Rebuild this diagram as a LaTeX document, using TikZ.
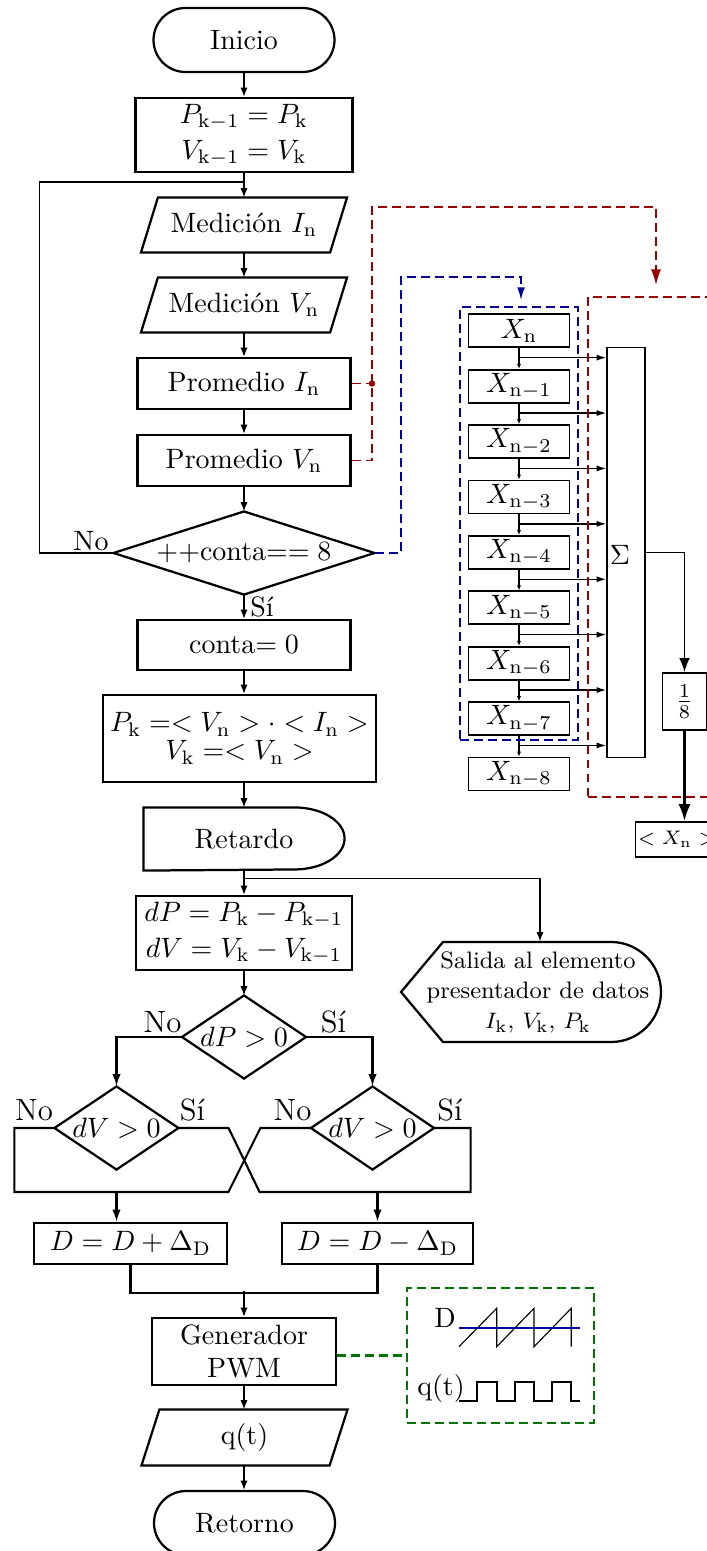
\documentclass[tikz,border=0pt]{standalone}
\usetikzlibrary{arrows.meta,calc}
\newcommand\pxu{0.357pt}
\definecolor{dred}{RGB}{153,0,0}
\definecolor{dblue}{RGB}{0,0,150}
\definecolor{dgreen}{RGB}{0,115,0}
% outline of an input/output block around a ghost node
\newcommand\ioshape[2]{\draw[shp] ([xshift=-#2]#1.south west) -- ([xshift=#2]#1.north west) -- ([xshift=#2]#1.north east) -- ([xshift=-#2]#1.south east) -- cycle;}
% outline of a decision block around a ghost node
\newcommand\decshape[1]{\draw[shp] (#1.west) -- (#1.north) -- (#1.east) -- (#1.south) -- cycle;}
\begin{document}
\begin{tikzpicture}[x=\pxu, y=-\pxu,
  shp/.style={line width=0.8pt, line join=miter},
  box/.style={draw, line width=0.8pt, inner sep=0pt, align=center},
  ghost/.style={inner sep=0pt, align=center},
  term/.style={box, minimum width=181*\pxu, minimum height=64*\pxu, rounded corners=11.42pt},
  conn/.style={line width=0.55pt},
  arr/.style={conn, -{Latex[length=3.3pt,width=2.6pt]}},
  arrB/.style={line width=0.75pt, -{Latex[length=4.4pt,width=3pt]}},
  thk/.style={line width=0.75pt},
  sarr/.style={line width=0.5pt, -{Latex[length=1.8pt,width=1.5pt]}},
  barr/.style={line width=0.5pt, -{Latex[length=3.5pt,width=2.2pt]}},
  xbox/.style={draw, line width=0.6pt, minimum width=101*\pxu, minimum height=33*\pxu, inner sep=0pt},
  dsh/.style={line width=0.55pt, dash pattern=on 3.2pt off 1.8pt},
  lbl/.style={inner sep=0pt},
  blbl/.style={inner sep=0pt, font=\fontsize{11}{13}\selectfont}]
\useasboundingbox (0,0) rectangle (707,1551);

% ---- main flow
\node[term] (ini) at (244,40) {Inicio};
\node[box, minimum width=217*\pxu, minimum height=74*\pxu] (p1) at (244,135)
  {$P_{\mathrm{k-1}} = P_{\mathrm{k}}$\\[1pt] $V_{\mathrm{k-1}} = V_{\mathrm{k}}$};
\node[ghost, minimum width=188*\pxu, minimum height=54*\pxu] (mi) at (244,225) {Medición $I_{\mathrm{n}}$};
\node[ghost, minimum width=188*\pxu, minimum height=54*\pxu] (mv) at (244,305) {Medición $V_{\mathrm{n}}$};
\node[box, minimum width=213*\pxu, minimum height=51*\pxu] (pi) at (244,383.5) {Promedio $I_{\mathrm{n}}$};
\node[box, minimum width=213*\pxu, minimum height=51*\pxu] (pv) at (244,460.5) {Promedio $V_{\mathrm{n}}$};
\node[ghost, minimum width=260*\pxu, minimum height=82*\pxu] (d8) at (244,553) {++conta$== 8$};
\node[box, minimum width=213*\pxu, minimum height=50*\pxu] (c0) at (244,645) {conta$= 0$};
\node[box, minimum width=273*\pxu, minimum height=87*\pxu] (pk) at (239.5,738.5)
  {$P_{\mathrm{k}} =< V_{\mathrm{n}} > \cdot < I_{\mathrm{n}} >$\\[-2pt] $V_{\mathrm{k}} =< V_{\mathrm{n}} >$};
\node[ghost, minimum width=200*\pxu, minimum height=62*\pxu] (ret) at (244,839) {Retardo};
\node[box, minimum width=216*\pxu, minimum height=74*\pxu] (dd) at (244,933)
  {$dP = P_{\mathrm{k}} - P_{\mathrm{k-1}}$\\[1pt] $dV = V_{\mathrm{k}} - V_{\mathrm{k-1}}$};
\node[ghost, minimum width=260*\pxu, minimum height=100*\pxu, font=\fontsize{8.5}{10.7}\selectfont] (sal) at (538,992)
  {Salida al elemento\\presentador de datos\\$I_{\mathrm{k}}$, $V_{\mathrm{k}}$, $P_{\mathrm{k}}$};
\node[ghost, minimum width=123*\pxu, minimum height=82*\pxu] (dp) at (244,1037) {$dP > 0$};
\node[ghost, minimum width=123*\pxu, minimum height=82*\pxu] (dv1) at (116.5,1128) {$dV > 0$};
\node[ghost, minimum width=122*\pxu, minimum height=82*\pxu] (dv2) at (372.5,1128) {$dV > 0$};
\node[box, minimum width=193*\pxu, minimum height=41*\pxu] (dplus) at (130.5,1243.5) {$D = D + \Delta_{\mathrm{D}}$};
\node[box, minimum width=191*\pxu, minimum height=41*\pxu] (dminus) at (377.5,1243.5) {$D = D - \Delta_{\mathrm{D}}$};
\node[box, minimum width=184*\pxu, minimum height=67*\pxu] (gen) at (244,1351.5) {Generador\\PWM};
\node[ghost, minimum width=187*\pxu, minimum height=55*\pxu] (qt) at (244.5,1437.5) {q(t)};
\node[term] (fin) at (244.5,1523) {Retorno};

% outlines of the drawn-by-hand shapes
\ioshape{mi}{3.03pt}
\ioshape{mv}{3.03pt}
\ioshape{qt}{3.21pt}
\decshape{d8}
\decshape{dp}
\decshape{dv1}
\decshape{dv2}
\draw[shp] (ret.north west) -- ([xshift=-17.85pt]ret.north east)
  arc[start angle=90, end angle=-90, x radius=17.85pt, y radius=11.07pt] -- (ret.south west) -- cycle;
\draw[shp] ($(sal.center)+(-137,0)$) -- ($(sal.center)+(-95,-50)$) -- ($(sal.center)+(73,-50)$)
  arc[start angle=90, end angle=-90, x radius=17.85pt, y radius=17.85pt] -- ($(sal.center)+(-95,50)$) -- cycle;

% branch labels
\node[lbl] (no1) at (91,541) {No};
\node[lbl] (si1) at (262,607) {Sí};
\node[blbl] (no2) at (162.5,1022.5) {No};
\node[blbl] (si2) at (333.5,1022) {Sí};
\node[blbl] (no3) at (34,1110) {No};
\node[blbl] (si3) at (192.5,1110) {Sí};
\node[blbl] (no4) at (292.5,1110) {No};
\node[blbl] (si4) at (450,1110) {Sí};

% main connectors
\coordinate (lp) at ($(p1.south)+(0,9)$);
\coordinate (tap) at ($(ret.south)+(0,8)$);
\draw[arr] (ini.south) -- (p1.north);
\draw[arr] (p1.south) -- (mi.north);
\draw[conn] (d8.west) -- ++(-74,0) |- (lp);
\draw[arr] (mi.south) -- (mv.north);
\draw[arr] (mv.south) -- (pi.north);
\draw[arr] (pi.south) -- (pv.north);
\draw[arr] (pv.south) -- (d8.north);
\draw[arr] (d8.south) -- (c0.north);
\draw[arr] (c0.south) -- (c0.south |- pk.north);
\draw[arr] (ret.north |- pk.south) -- (ret.north);
\draw[arr] (ret.south) -- (dd.north);
\draw[arr] (tap) -| ($(sal.north)+(2,0)$);
\draw[arr] (dd.south) -- (dp.north);
\draw[arrB] (dp.west) -| (dv1.north);
\draw[arrB] (dp.east) -| (dv2.north);
\draw[thk] (dv1.west) -- ++(-40,0) -- ++(0,64) -- ++(214,0) -- ++(32,-64) -- (dv2.west);
\draw[thk] (dv1.east) -- ++(50,0) -- ++(31,64) -- ++(211,0) -- ++(0,-64) -- (dv2.east);
\draw[arrB] ($(dv1.south)+(0,23)$) -- (dv1.south |- dplus.north);
\draw[arrB] ($(dminus.north)+(0,-31)$) -- (dminus.north);
\draw[thk] (dplus.south) -- ++(0,28) -| (dminus.south);
\draw[arr] ($(gen.north)+(0,-26)$) -- (gen.north);
\draw[arr] (gen.south) -- (gen.south |- qt.north);
\draw[arr] (qt.south -| gen.south) -- (gen.south |- fin.north);

% ---- moving-average block
\node[xbox] (x0) at (519,330.8) {$X_{\mathrm{n}}$};
\foreach \k in {1,...,8}
  \node[xbox] (x\k) at (519,{330.8+55.4*\k}) {$X_{\mathrm{n}-\k}$};
\node[draw, line width=0.5pt, minimum width=38*\pxu, minimum height=409.6*\pxu, inner sep=0pt] (sig) at (626,552.5) {};
\node[inner sep=0pt] (sigl) at (620,555) {$\Sigma$};
\node[draw, line width=0.6pt, minimum width=44*\pxu, minimum height=57*\pxu, inner sep=0pt] (eig) at (684.5,701.5) {$\frac{1}{8}$};
\node[draw, line width=0.6pt, minimum width=83*\pxu, minimum height=35*\pxu, inner sep=0pt, font=\fontsize{7.3}{9}\selectfont] (avg) at (677,839.3) {$< X_{\mathrm{n}} >$};
\foreach \k [count=\j from 1] in {0,...,7} {
  \draw[sarr] (x\k.south) -- (x\j.north);
  \draw[barr] ($(x\k.south)+(0,9.5)$) -- ($(sig.west |- x\k.south)+(0,9.5)$);
}
\draw[conn, -{Latex[length=5pt,width=3.8pt]}] (sig.east) -| (eig.north);
\draw[line width=0.75pt, -{Latex[length=6pt,width=4.3pt]}] (eig.south) -- (eig.south |- avg.north);

% dashed groupings and their feeds
\node[draw=dblue, dsh, minimum width=118*\pxu, minimum height=433*\pxu, inner sep=0pt] (bbox) at (519,523.5) {};
\node[draw=dred, dsh, minimum width=142*\pxu, minimum height=500*\pxu, inner sep=0pt] (rbox) at (659,547) {};
\coordinate (rj) at (372,383.5);
\coordinate (rtop) at (372,207);
\coordinate (rin) at (656,285);
\coordinate (btop) at (401,277);
\coordinate (bin) at (521,300);
\draw[dred, dsh] (pi.east) -- (rj);
\fill[dred] (rj) circle[radius=1.15pt];
\draw[dred, dsh, -{Latex[length=5.6pt,width=3.6pt]}] (pv.east) -| (rtop) -| (rin);
\draw[dblue, dsh, -{Latex[length=4.5pt,width=2.8pt]}] (d8.east) -| (btop) -| (bin);

% PWM waveforms
\node[draw=dgreen, dsh, minimum width=187*\pxu, minimum height=135*\pxu, inner sep=0pt] (pw) at (500.5,1355.5) {};
\draw[draw=dgreen, line width=0.75pt, dash pattern=on 3.2pt off 1.8pt] (gen.east |- pw.west) -- (pw.west);
\node[lbl] (dl) at (445,1318) {D};
\node[lbl] (ql) at (441,1388) {q(t)};
\draw[line width=0.4pt] (459,1346.7) -- (496.7,1308.3) -- (496.7,1346.7) -- (534,1308.3) -- (534,1346.7)
  -- (571.3,1308.3) -- (571.3,1346.7);
\draw[dblue, line width=0.7pt] (459,1327.7) -- (580,1327.7);
\draw[line width=0.6pt] (459,1400.7) -- (476.7,1400.7) -- (476.7,1381.7) -- (496.7,1381.7) -- (496.7,1400.7)
  -- (515,1400.7) -- (515,1381.7) -- (534,1381.7) -- (534,1400.7) -- (552.3,1400.7) -- (552.3,1381.7)
  -- (571.3,1381.7) -- (571.3,1400.7) -- (580,1400.7);
\end{tikzpicture}
\end{document}
